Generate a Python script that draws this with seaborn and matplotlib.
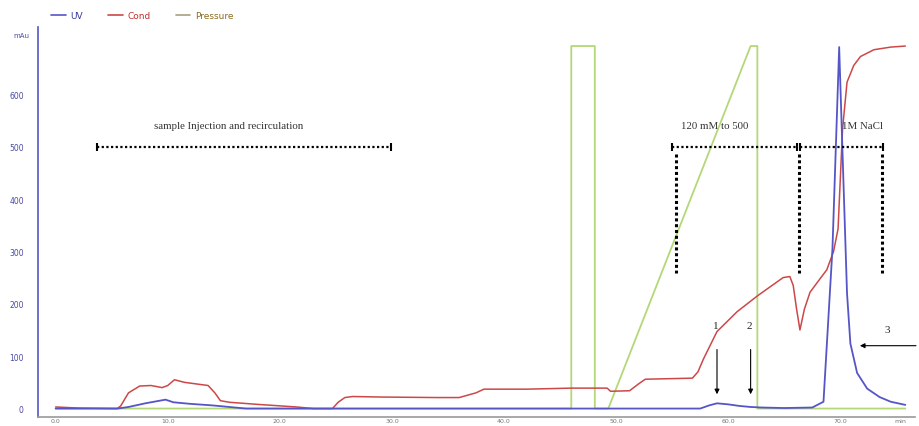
import numpy as np
import pandas as pd
import matplotlib.pyplot as plt
import seaborn as sns
from matplotlib.lines import Line2D

sns.set_style("white")
plt.rcParams['font.family'] = ['DejaVu Sans']

# chromatogram traces (time in min, signal)
uv_t = [0, 5.5, 6.5, 8, 9.8, 10.5, 12, 14, 16, 17, 57.5, 58.3, 59, 60, 61, 62, 63, 65,
        67.5, 68.5, 69.3, 69.9, 70.3, 70.6, 70.9, 71.5, 72.4, 73.5, 74.5, 75.8]
uv_v = [0, 0, 3, 10, 17, 12, 9, 6, 2, 0, 0, 6, 10, 8, 5, 3, 2, 1,
        2, 13, 305, 690, 420, 220, 124, 68, 38, 22, 13, 7]

cond_t = [0, 2, 5.5, 5.8, 6.5, 7.5, 8.5, 9.5, 10, 10.6, 11.5, 12.9, 13.6, 14.2, 14.7, 15.5,
          18, 21.5, 23, 24.7, 25.2, 25.8, 26.5, 29, 34, 36, 37.5, 38.2, 42, 46, 49.2, 49.5,
          51.2, 52, 52.6, 56.8, 57.3, 57.8, 59, 60.8, 62.6, 64.9, 65.5, 65.8, 66.1, 66.4,
          66.8, 67.3, 68.2, 68.8, 69.4, 69.8, 70.2, 70.6, 71.2, 71.8, 73, 74.5, 75.8]
cond_v = [3, 1, 0, 5, 30, 43, 44, 40, 44, 55, 50, 46, 44, 30, 15, 12,
          8, 3, 0, 0, 12, 21, 23, 22, 21, 21, 30, 37, 37, 39, 39, 33,
          34, 47, 56, 58, 70, 95, 147, 185, 215, 250, 252, 235, 190, 150,
          190, 222, 248, 265, 300, 343, 533, 623, 655, 672, 685, 690, 692]

pres_t = [0, 46.0, 46.0, 48.1, 48.1, 49.3, 62.0, 62.6, 62.6, 75.8]
pres_v = [0, 0, 692, 692, 0, 0, 692, 692, 0, 0]

x_ticks = [0, 10, 20, 30, 40, 50, 60, 70]
y_ticks = [0, 100, 200, 300, 400, 500, 600]

uv_color = '#5555c8'
cond_color = '#cc4848'
pres_color = '#b4d878'

fig = plt.figure(figsize=(9.2, 4.27), dpi=100)
ax = fig.add_axes([0.041, 0.02, 0.954, 0.914])

sns.lineplot(x=pres_t, y=pres_v, sort=False, estimator=None, color=pres_color, lw=1.3, ax=ax)
sns.lineplot(x=cond_t, y=cond_v, sort=False, estimator=None, color=cond_color, lw=1.1, ax=ax)
sns.lineplot(x=uv_t, y=uv_v, sort=False, estimator=None, color=uv_color, lw=1.3, ax=ax)

ax.set_xlim(-1.6, 76.7)
ax.set_ylim(-17, 728)
ax.set_xticks(x_ticks)
ax.set_xticklabels([f'{t:.1f}' for t in x_ticks], fontsize=4.5, color='#777777')
ax.set_yticks(y_ticks)
ax.set_yticklabels([str(v) for v in y_ticks], fontsize=5.5, color='#4a4aa0')
ax.tick_params(axis='y', length=2, pad=8, color=uv_color)
ax.tick_params(axis='x', length=0, pad=0.5)
for s in ['top', 'right']:
    ax.spines[s].set_visible(False)
ax.spines['left'].set_color(uv_color)
ax.spines['left'].set_linewidth(1.2)
ax.spines['bottom'].set_color('#999999')
ax.spines['bottom'].set_linewidth(1.2)
ax.set_xlabel('')
ax.set_ylabel('')

fig.text(0.015, 0.912, 'mAu', fontsize=5, color='#4a4aa0')
fig.text(0.985, 0.006, 'min', fontsize=4.5, color='#777777', ha='right', va='bottom')

# legend on top
handles = [Line2D([], [], color=uv_color, lw=1.2),
           Line2D([], [], color=cond_color, lw=1.2),
           Line2D([], [], color='#a8a080', lw=1.2)]
leg = fig.legend(handles, ['UV', 'Cond', 'Pressure'], loc='upper left', bbox_to_anchor=(0.047, 0.99),
                 ncol=3, frameon=False, fontsize=6.5, handlelength=1.6, handletextpad=0.5,
                 columnspacing=2.8)
for txt, c in zip(leg.get_texts(), ['#3a3a9a', '#c03030', '#8a6a20']):
    txt.set_color(c)

serif = ['Liberation Serif', 'DejaVu Serif']
dot = dict(color='black', ls=(0, (1, 1.1)), lw=1.6)
vdot = dict(color='black', ls=(0, (1, 0.9)), lw=2.2)

# horizontal phase ranges
for x0, x1 in [(3.7, 29.9), (55.0, 66.1), (66.4, 73.8)]:
    ax.plot([x0, x1], [499, 499], **dot)
    ax.plot([x0, x1], [499, 499], ls='none', marker='|', ms=6, mew=1.5, color='black')

ax.text(15.4, 540, 'sample Injection and recirculation', fontsize=7.8, family=serif,
        ha='center', va='center', color='#333333')
ax.text(58.8, 540, '120 mM to 500', fontsize=7.8, family=serif, ha='center', va='center', color='#333333')
ax.text(72.0, 540, '1M NaCl', fontsize=7.8, family=serif, ha='center', va='center', color='#333333')

for xv in [55.3, 66.3, 73.7]:
    ax.plot([xv, xv], [485, 258], **vdot)

# peak arrows
for xv, lab in [(59.0, '1'), (62.0, '2')]:
    ax.annotate('', xy=(xv, 22), xytext=(xv, 118),
                arrowprops=dict(arrowstyle='-|>', color='black', lw=0.8, mutation_scale=7))
    ax.text(xv - 0.15, 158, lab, fontsize=8, family=serif, ha='center', va='center')
ax.annotate('', xy=(71.5, 120), xytext=(77, 120),
            arrowprops=dict(arrowstyle='-|>', color='black', lw=0.8, mutation_scale=7))
ax.text(74.2, 150, '3', fontsize=8, family=serif, ha='center', va='center')

fig.savefig('out.png', dpi=100)
